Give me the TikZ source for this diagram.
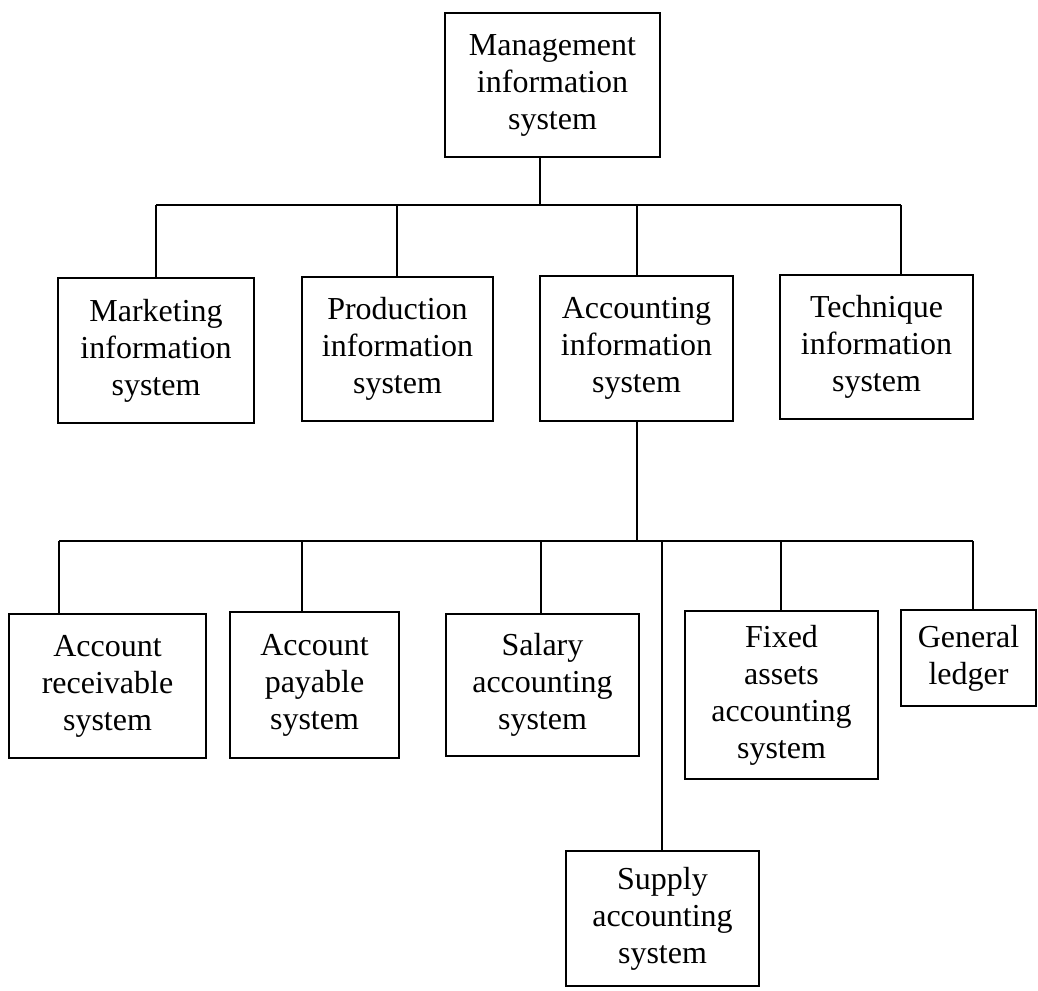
\documentclass[tikz,border=0pt]{standalone}
\usepackage{fontspec}
\setmainfont{Liberation Serif}
\begin{document}
\begin{tikzpicture}[x=1pt,y=-1pt,
  box/.style={draw, line width=1.6pt, align=center, inner sep=0pt,
    font=\fontsize{32}{37}\selectfont},
  conn/.style={line width=1.6pt}]
\useasboundingbox (0,0) rectangle (1038,990);
% top
\node[box, minimum width=215pt, minimum height=144pt] (mis) at (552.5,85) {Management\\information\\system};
% second row
\node[box, minimum width=196pt, minimum height=145pt] (mkt) at (156,350.5) {Marketing\\information\\system};
\node[box, minimum width=191pt, minimum height=144pt] (prd) at (397.5,349) {Production\\information\\system};
\node[box, minimum width=193pt, minimum height=145pt] (acc) at (636.5,348.5) {Accounting\\information\\system};
\node[box, minimum width=193pt, minimum height=144pt] (tec) at (876.5,347) {Technique\\information\\system};
% third row
\node[box, minimum width=197pt, minimum height=144pt] (rec) at (107.5,686) {Account\\receivable\\system};
\node[box, minimum width=169pt, minimum height=146pt] (pay) at (314.5,685) {Account\\payable\\system};
\node[box, minimum width=193pt, minimum height=142pt] (sal) at (542.5,685) {Salary\\accounting\\system};
\node[box, minimum width=193pt, minimum height=168pt] (fix) at (781.5,695) {Fixed\\assets\\accounting\\system};
\node[box, minimum width=135pt, minimum height=96pt] (gen) at (968.5,658) {General\\ledger};
\node[box, minimum width=193pt, minimum height=135pt] (sup) at (662.5,918.5) {Supply\\accounting\\system};
% bus coordinates
\coordinate (t0) at (540,205);
\coordinate (u1) at (156,205);
\coordinate (u2) at (397,205);
\coordinate (u3) at (637,205);
\coordinate (u4) at (901,205);
\coordinate (l1) at (59,541);
\coordinate (l2) at (302,541);
\coordinate (l3) at (541,541);
\coordinate (l4) at (662,541);
\coordinate (l5) at (781,541);
\coordinate (l6) at (973,541);
% connectors
\draw[conn] (mis.south -| t0) -- (t0);
\draw[conn] (u1) -- (u4);
\draw[conn] (u1) -- (u1 |- mkt.north);
\draw[conn] (u2) -- (u2 |- prd.north);
\draw[conn] (u3) -- (u3 |- acc.north);
\draw[conn] (u4) -- (u4 |- tec.north);
\draw[conn] (acc.south -| u3) -- (u3 |- l1);
\draw[conn] (l1) -- (l6);
\draw[conn] (l1) -- (l1 |- rec.north);
\draw[conn] (l2) -- (l2 |- pay.north);
\draw[conn] (l3) -- (l3 |- sal.north);
\draw[conn] (l4) -- (l4 |- sup.north);
\draw[conn] (l5) -- (l5 |- fix.north);
\draw[conn] (l6) -- (l6 |- gen.north);
\end{tikzpicture}
\end{document}
